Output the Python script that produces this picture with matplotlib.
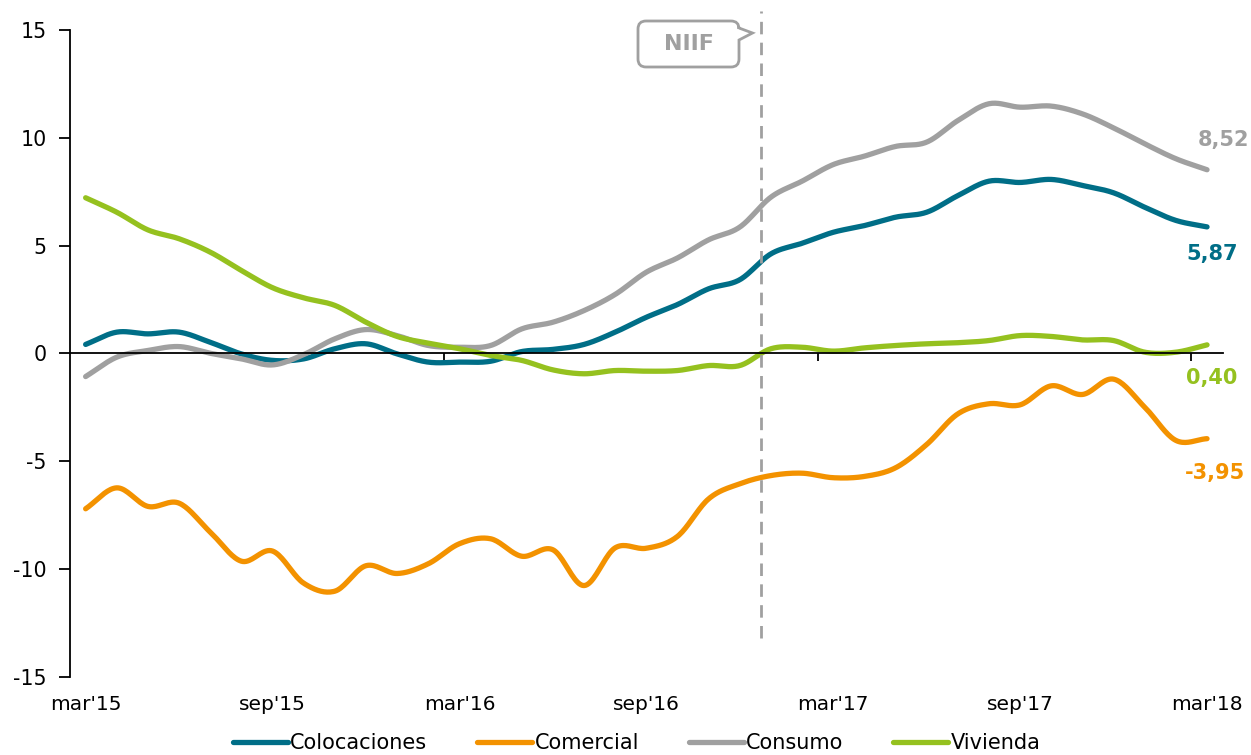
import numpy as np
import matplotlib.pyplot as plt
from matplotlib.patches import PathPatch
from matplotlib.path import Path

plt.rcParams['axes.unicode_minus'] = False

# variacion real anual (%), mensual mar'15 - mar'18
colocaciones = [0.42, 0.99, 0.91, 0.99, 0.52, -0.02, -0.32, -0.25, 0.22, 0.45,
                -0.02, -0.40, -0.40, -0.36, 0.09, 0.19, 0.42, 0.99, 1.68, 2.27,
                3.00, 3.42, 4.62, 5.11, 5.62, 5.93, 6.32, 6.55, 7.32, 7.99,
                7.93, 8.07, 7.79, 7.45, 6.78, 6.17, 5.87]
comercial = [-7.20, -6.23, -7.09, -6.94, -8.28, -9.63, -9.16, -10.65, -11.02, -9.84,
             -10.20, -9.75, -8.82, -8.59, -9.40, -9.10, -10.76, -9.01, -9.03, -8.48,
             -6.74, -6.04, -5.66, -5.55, -5.76, -5.70, -5.30, -4.22, -2.80, -2.33,
             -2.38, -1.50, -1.90, -1.19, -2.49, -4.03, -3.95]
consumo = [-1.07, -0.17, 0.14, 0.32, 0.01, -0.25, -0.53, -0.05, 0.68, 1.11,
           0.83, 0.37, 0.29, 0.37, 1.14, 1.45, 1.99, 2.74, 3.77, 4.43,
           5.27, 5.86, 7.25, 7.99, 8.76, 9.15, 9.60, 9.80, 10.80, 11.58,
           11.42, 11.47, 11.11, 10.46, 9.72, 9.03, 8.52]
vivienda = [7.22, 6.55, 5.73, 5.32, 4.70, 3.85, 3.05, 2.58, 2.23, 1.45,
            0.79, 0.48, 0.22, -0.09, -0.32, -0.76, -0.94, -0.79, -0.82, -0.79,
            -0.56, -0.56, 0.22, 0.29, 0.11, 0.26, 0.37, 0.45, 0.50, 0.60,
            0.83, 0.79, 0.63, 0.60, 0.06, 0.06, 0.40]

series = ['Colocaciones', 'Comercial', 'Consumo', 'Vivienda']
colores = ['#006E87', '#F39200', '#A0A0A0', '#95C11F']
etiquetas = ["mar'15", "sep'15", "mar'16", "sep'16", "mar'17", "sep'17", "mar'18"]
finales = ['5,87', '-3,95', '8,52', '0,40']
niif_mes = 21.68


def suavizar(y, n=20):
    # curva tipo "linea suavizada" (Catmull-Rom) entre los puntos mensuales
    p = np.array(y, dtype=float)
    x = np.arange(len(p), dtype=float)
    p = np.concatenate([[2 * p[0] - p[1]], p, [2 * p[-1] - p[-2]]])
    xs, ys = [], []
    t = np.linspace(0, 1, n, endpoint=False)
    for i in range(1, len(p) - 2):
        p0, p1, p2, p3 = p[i - 1], p[i], p[i + 1], p[i + 2]
        ys.append(0.5 * (2 * p1 + (-p0 + p2) * t + (2 * p0 - 5 * p1 + 4 * p2 - p3) * t ** 2
                         + (-p0 + 3 * p1 - 3 * p2 + p3) * t ** 3))
        xs.append(x[i - 1] + t)
    xs.append([x[-1]])
    ys.append([p[-2]])
    return np.concatenate(xs), np.concatenate(ys)


fig = plt.figure(figsize=(12.51, 7.55), dpi=100)
ax = fig.add_axes([0.056, 0.1033, 0.9213, 0.857])

datos = [colocaciones, comercial, consumo, vivienda]
lineas = []
for nombre, y, c in zip(series, datos, colores):
    xs, ys = suavizar(y)
    l, = ax.plot(xs, ys, color=c, lw=3.8, solid_capstyle='round', label=nombre)
    lineas.append(l)

ax.set_xlim(-0.5, 36.5)
ax.set_ylim(-15, 15)
ax.spines['top'].set_visible(False)
ax.spines['right'].set_visible(False)
ax.spines['bottom'].set_position(('data', 0))
ax.spines['bottom'].set_linewidth(1.3)
ax.spines['left'].set_linewidth(1.3)

ax.set_xticks([11.5, 23.5, 35.5])
ax.set_xticklabels([])
ax.tick_params(axis='x', direction='out', length=6, width=1.3)
ax.set_yticks(range(-15, 16, 5))
ax.tick_params(axis='y', direction='out', length=8, width=1.3, labelsize=14.8, pad=9)

sec = ax.secondary_xaxis(0)
sec.set_xticks(range(0, 37, 6), etiquetas)
sec.tick_params(length=0, pad=13, labelsize=14.5)
sec.spines['bottom'].set_visible(False)

# valores finales
desplaz = [(5, -27), (8, -34), (16, 30), (5, -33)]
for y, c, txt, d in zip(datos, colores, finales, desplaz):
    ax.annotate(txt, (36, y[-1]), xytext=d, textcoords='offset pixels',
                ha='center', va='center', color=c, fontsize=15, fontweight='bold',
                annotation_clip=False)

# linea NIIF
ax.plot([niif_mes, niif_mes], [-13.17, 15.9], color='#A0A0A0', lw=2,
        dashes=(4.5, 3), clip_on=False)

# globo NIIF (en pulgadas de la figura)
x0, x1, yb, yt, r = 6.38, 7.39, 6.88, 7.34, 0.08
verts = [(x0 + r, yt), (x1 - r, yt), (x1, yt), (x1, yt - r), (x1, 7.27),
         (7.525, 7.22), (x1, 7.15), (x1, yb + r), (x1, yb), (x1 - r, yb),
         (x0 + r, yb), (x0, yb), (x0, yb + r), (x0, yt - r), (x0, yt),
         (x0 + r, yt), (x0 + r, yt)]
codes = [Path.MOVETO, Path.LINETO, Path.CURVE3, Path.CURVE3, Path.LINETO,
         Path.LINETO, Path.LINETO, Path.LINETO, Path.CURVE3, Path.CURVE3,
         Path.LINETO, Path.CURVE3, Path.CURVE3, Path.LINETO, Path.CURVE3,
         Path.CURVE3, Path.CLOSEPOLY]
fig.patches.append(PathPatch(Path(verts, codes), fc='white', ec='#A0A0A0', lw=2,
                             transform=fig.dpi_scale_trans, zorder=5))
fig.text((x0 + x1) / 2 / 12.51, (yb + yt) / 2 / 7.55, 'NIIF', ha='center',
         va='center', color='#A0A0A0', fontsize=16, fontweight='bold', zorder=6)

fig.legend(handles=lineas, loc='center', bbox_to_anchor=(0.509, 0.016), ncol=4,
           frameon=False, fontsize=15, handlelength=2.64, handletextpad=0.1,
           columnspacing=2.4)

fig.savefig('out.png', dpi=100)
